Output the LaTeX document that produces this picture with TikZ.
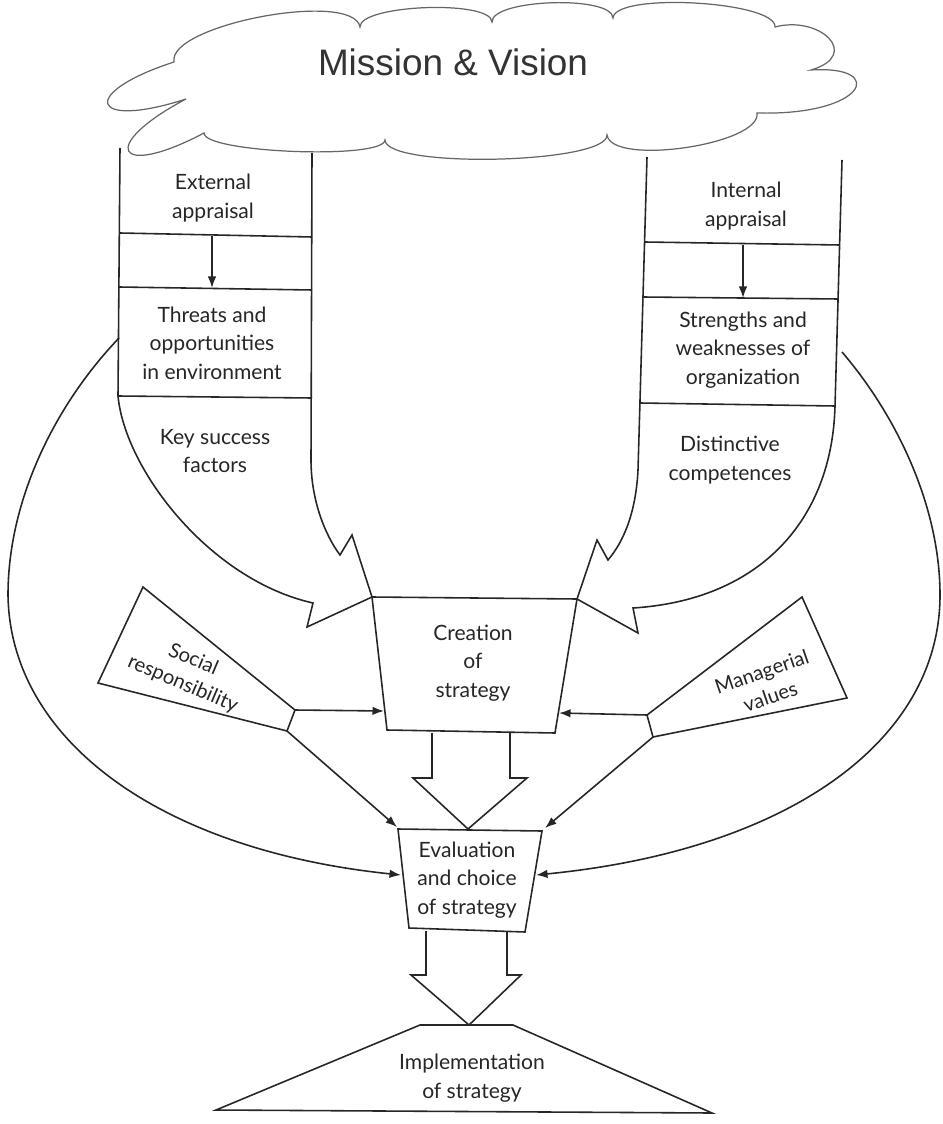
\documentclass[tikz,border=0pt]{standalone}
\usepackage{fontspec}
\setmainfont{Lato}
\newfontfamily\cloudfont{Liberation Sans}
\usepackage{tikz}
\usetikzlibrary{calc,arrows.meta}

% one puff of the cloud, bulging to the left of the way from #1 to #2
\newcommand{\puff}[3]{.. controls ($(#1)!#3!90:(#2)$) and ($(#2)!#3!-90:(#1)$) .. (#2)}

\begin{document}
\begin{tikzpicture}[x=0.02cm,y=-0.02cm,
    line/.style={draw=black!85,line width=0.9pt},
    flow/.style={line,-{Latex[length=2.3mm,width=1.7mm]}},
    cloudline/.style={draw=black!60,line width=0.7pt,fill=white},
    lbl/.style={align=center,inner sep=0pt,text=black!85,font=\fontsize{12}{16.2}\selectfont}]
\useasboundingbox (0,0) rectangle (942,1124);

% external appraisal
\coordinate (ex-top-l) at (120,148);
\coordinate (ex-top-r) at (312,153);
\coordinate (ex-bot-l) at (118,396);
\coordinate (ex-bend-r) at (311,460);
\coordinate (ex-end-l) at (313,603);
\coordinate (ex-barb-l) at (307,627);
\coordinate (ex-tip) at (372,597);
\coordinate (ex-barb-r) at (352,535);
\coordinate (ex-end-r) at (340,555);
\draw[line] (ex-top-l) -- (ex-bot-l) .. controls (125,470) and (210,580) .. (ex-end-l)
  -- (ex-barb-l) -- (ex-tip) -- (ex-barb-r) -- (ex-end-r)
  .. controls (325,535) and (311,500) .. (ex-bend-r) -- (ex-top-r);
\draw[line] (120,233) -- (312,237);
\draw[line] (119,287) -- (312,290);
\draw[line] (118,396) -- (312,398);
\coordinate (ex-s1) at (212,236);
\coordinate (ex-s2) at (212,288);
\draw[flow] (ex-s1) -- (ex-s2);
\node[lbl] (ext-app) at (213,198) {External\\appraisal};
\node[lbl] (threats) at (212,343) {Threats and\\opportunities\\in environment};
\node[lbl] (ksf) at (215,451) {Key success\\factors};

% internal appraisal
\coordinate (in-top-l) at (647,157);
\coordinate (in-top-r) at (842,160);
\coordinate (in-bend-l) at (638,470);
\coordinate (in-end-l) at (608,560);
\coordinate (in-barb-l) at (597,540);
\coordinate (in-tip) at (577,599);
\coordinate (in-barb-r) at (638,633);
\coordinate (in-end-r) at (633,608);
\coordinate (in-bot-r) at (835,406);
\draw[line] (in-top-l) -- (in-bend-l) .. controls (636,510) and (625,540) .. (in-end-l)
  -- (in-barb-l) -- (in-tip) -- (in-barb-r) -- (in-end-r)
  .. controls (760,600) and (832,520) .. (in-bot-r) -- (in-top-r);
\draw[line] (644.6,242) -- (839.6,245);
\draw[line] (643,297) -- (838,299);
\draw[line] (640,403) -- (835,406);
\coordinate (in-s1) at (743,245);
\coordinate (in-s2) at (743,298);
\draw[flow] (in-s1) -- (in-s2);
\node[lbl] (int-app) at (746,206) {Internal\\appraisal};
\node[lbl] (sw) at (743,350) {Strengths and\\weaknesses of\\organization};
\node[lbl] (dc) at (730,460) {Distinctive\\competences};

% creation of strategy
\coordinate (cr-bl) at (387,730);
\coordinate (cr-br) at (555,733);
\draw[line] (ex-tip) -- (in-tip) -- (cr-br) -- (cr-bl) -- cycle;
\node[lbl] (creation) at (473,663) {Creation\\of\\strategy};
\draw[line] (432,733) -- (432,778) -- (413,778) -- (468,829) -- (527,778) -- (510,778) -- (510,733);

% evaluation and choice
\coordinate (ev-tl) at (398,829);
\coordinate (ev-tr) at (542,831);
\coordinate (ev-br) at (525,932);
\coordinate (ev-bl) at (409,928);
\draw[line] (ev-tl) -- (ev-tr) -- (ev-br) -- (ev-bl) -- cycle;
\node[lbl] (eval) at (467,880) {Evaluation\\and choice\\of strategy};
\draw[line] (426,931) -- (426,975) -- (411,975) -- (469,1025) -- (521,975) -- (507,975) -- (507,932);

% implementation
\coordinate (im-tl) at (420,1025);
\coordinate (im-tr) at (513,1025);
\coordinate (im-br) at (712,1113);
\coordinate (im-bl) at (216,1110);
\draw[line] (im-tl) -- (im-tr) -- (im-br) -- (im-bl) -- cycle;
\node[lbl] (impl) at (472,1078) {Implementation\\of strategy};

% social responsibility and managerial values
\coordinate (so-t) at (143,587);
\coordinate (so-r) at (295,710);
\coordinate (so-b) at (287,731);
\coordinate (so-l) at (98,683);
\draw[line] (so-t) -- (so-r) -- (so-b) -- (so-l) -- cycle;
\node[lbl,rotate=-23,font=\fontsize{11.5}{15}\selectfont] (social) at (188,672) {Social\\responsibility};
\coordinate (mv-l) at (647,715);
\coordinate (mv-t) at (802,597);
\coordinate (mv-r) at (847,698);
\coordinate (mv-b) at (653,737);
\draw[line] (mv-l) -- (mv-t) -- (mv-r) -- (mv-b) -- cycle;
\node[lbl,rotate=19,font=\fontsize{11.5}{15}\selectfont] (managerial) at (766,684) {Managerial\\values};

\coordinate (cr-in-l) at (384,711);
\coordinate (cr-in-r) at (559,713);
\coordinate (ev-in-tl) at (397,827);
\coordinate (ev-in-tr) at (545,828);
\coordinate (ev-in-l) at (401,875);
\coordinate (ev-in-r) at (536,875);
\draw[flow] (so-r) -- (cr-in-l);
\draw[flow] (so-b) -- (ev-in-tl);
\draw[flow] (mv-l) -- (cr-in-r);
\draw[flow] (mv-b) -- (ev-in-tr);

% big loops round the sides
\coordinate (th-out) at (119,338);
\coordinate (sw-out) at (842,352);
\draw[flow] (th-out) .. controls (55,405) and (8,500) .. (8,595)
  .. controls (10,740) and (160,850) .. (ev-in-l);
\draw[flow] (sw-out) .. controls (900,420) and (940,510) .. (940,595)
  .. controls (940,740) and (790,850) .. (ev-in-r);

% mission cloud
\foreach \n/\p in {1/{174,62},2/{360,27},3/{492,22},4/{613,18},5/{775,27},6/{811,70},
    7/{757,113},8/{607,135},9/{385,140},10/{204,133},11/{186,99}}
  \coordinate (cl\n) at (\p);
\draw[cloudline] (cl1) \puff{cl1}{cl2}{0.2} \puff{cl2}{cl3}{0.17} \puff{cl3}{cl4}{0.19}
  \puff{cl4}{cl5}{0.16} .. controls (820,15) and (862,55) .. (cl6)
  .. controls (888,65) and (866,116) .. (cl7) \puff{cl7}{cl8}{0.21}
  \puff{cl8}{cl9}{0.13} \puff{cl9}{cl10}{0.11} \puff{cl10}{cl11}{2.6} \puff{cl11}{cl1}{2.6} -- cycle;
\node[font=\cloudfont\fontsize{21}{25}\selectfont,text=black!80] (mission) at (453,62) {Mission \& Vision};
\end{tikzpicture}
\end{document}
